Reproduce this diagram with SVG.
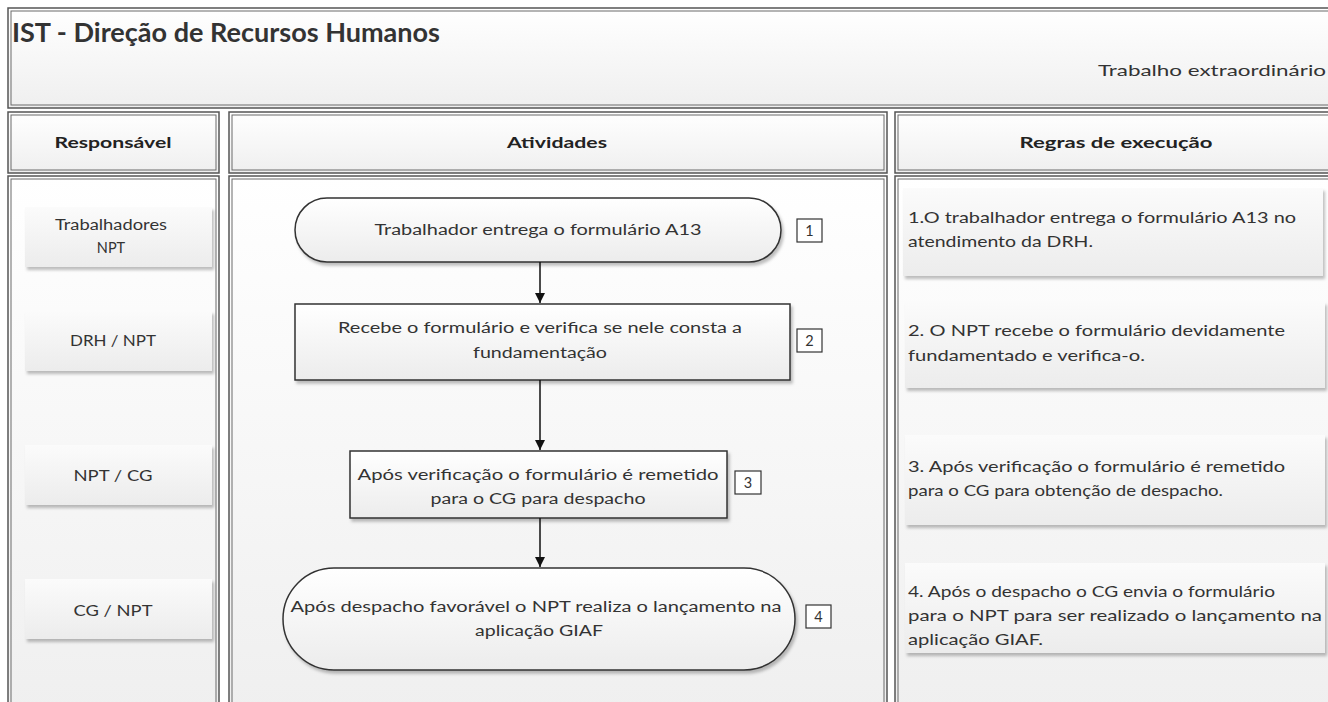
<svg xmlns="http://www.w3.org/2000/svg" width="1328" height="702" viewBox="0 0 1328 702">
<defs>
<linearGradient id="panel" x1="0" y1="0" x2="0" y2="1"><stop offset="0" stop-color="#ffffff"/><stop offset="1" stop-color="#efefef"/></linearGradient>
<linearGradient id="shape" x1="0" y1="0" x2="0" y2="1"><stop offset="0" stop-color="#ffffff"/><stop offset="1" stop-color="#ececec"/></linearGradient>
<linearGradient id="card" x1="0" y1="0" x2="0" y2="1"><stop offset="0" stop-color="#fbfbfb"/><stop offset="1" stop-color="#ececec"/></linearGradient>
<filter id="sh" x="-5%" y="-10%" width="115%" height="130%"><feDropShadow dx="2" dy="3" stdDeviation="1.5" flood-color="#000" flood-opacity="0.25"/></filter>
<marker id="arr" viewBox="0 0 10 10" refX="10" refY="5" markerWidth="10" markerHeight="10" markerUnits="userSpaceOnUse" orient="auto"><path d="M0,0 L10,5 L0,10 z" fill="#111"/></marker>
<style>
.outer{fill:url(#panel);stroke:#555;stroke-width:1.5}
.inner{fill:none;stroke:#6a6a6a;stroke-width:1}
.t{font-family:Lato,"Liberation Sans",sans-serif;fill:#333}
.h{font-weight:bold;font-size:16px;text-anchor:middle;fill:#222}
.c{font-size:14.5px;text-anchor:middle}
.n{font-size:15px}
.card{fill:url(#card);filter:url(#sh)}
.fs{fill:url(#shape);stroke:#333;stroke-width:1.5;filter:url(#sh)}
.num{fill:#fff;stroke:#333;stroke-width:1.2}
.link{stroke:#111;stroke-width:1.5;fill:none;marker-end:url(#arr)}
</style>
</defs>
<rect width="1328" height="702" fill="#fff"/>

<g id="title">
<rect class="outer" x="8" y="8" width="1330" height="100"/>
<rect class="inner" x="11" y="11" width="1330" height="94"/>
<text class="t" x="12" y="42" font-size="26" font-weight="bold" fill="#111" textLength="428" lengthAdjust="spacingAndGlyphs">IST - Direção de Recursos Humanos</text>
<text class="t" x="1326" y="76" font-size="16" text-anchor="end" textLength="228" lengthAdjust="spacingAndGlyphs">Trabalho extraordinário</text>
</g>

<g id="header-responsavel">
<rect class="outer" x="8" y="112" width="211" height="61"/>
<rect class="inner" x="11" y="115" width="205" height="55"/>
<text class="t h" x="113" y="148" textLength="117" lengthAdjust="spacingAndGlyphs">Responsável</text>
</g>
<g id="header-atividades">
<rect class="outer" x="229" y="112" width="658" height="61"/>
<rect class="inner" x="232" y="115" width="652" height="55"/>
<text class="t h" x="557" y="148" textLength="100" lengthAdjust="spacingAndGlyphs">Atividades</text>
</g>
<g id="header-regras">
<rect class="outer" x="895" y="112" width="440" height="61"/>
<rect class="inner" x="898" y="115" width="440" height="55"/>
<text class="t h" x="1116" y="148" textLength="193" lengthAdjust="spacingAndGlyphs">Regras de execução</text>
</g>

<g id="col-responsavel">
<rect class="outer" x="8" y="176" width="211" height="540"/>
<rect class="inner" x="11" y="179" width="205" height="540"/>
</g>
<g id="col-atividades">
<rect class="outer" x="229" y="176" width="658" height="540"/>
<rect class="inner" x="232" y="179" width="652" height="540"/>
</g>
<g id="col-regras">
<rect class="outer" x="895" y="176" width="440" height="540"/>
<rect class="inner" x="898" y="179" width="440" height="540"/>
</g>

<g id="resp-1">
<rect class="card" x="25" y="207" width="187" height="60"/>
<text class="t c" x="111" y="230" textLength="112" lengthAdjust="spacingAndGlyphs">Trabalhadores</text>
<text class="t c" x="111" y="253">NPT</text>
</g>
<g id="resp-2">
<rect class="card" x="25" y="311" width="187" height="60"/>
<text class="t c" x="113" y="346" textLength="86" lengthAdjust="spacingAndGlyphs">DRH / NPT</text>
</g>
<g id="resp-3">
<rect class="card" x="25" y="445" width="187" height="60"/>
<text class="t c" x="113" y="481" textLength="79" lengthAdjust="spacingAndGlyphs">NPT / CG</text>
</g>
<g id="resp-4">
<rect class="card" x="25" y="579" width="187" height="60"/>
<text class="t c" x="113" y="616" textLength="79" lengthAdjust="spacingAndGlyphs">CG / NPT</text>
</g>

<g id="step-1">
<rect class="fs" x="295" y="198" width="486" height="64" rx="32"/>
<text class="t c" x="538" y="235" textLength="327" lengthAdjust="spacingAndGlyphs">Trabalhador entrega o formulário A13</text>
<rect class="num" x="797" y="219" width="25" height="23"/>
<text class="t c" x="809.5" y="236">1</text>
</g>
<g id="step-2">
<rect class="fs" x="295" y="304" width="495" height="76"/>
<text class="t c" x="540" y="333" textLength="404" lengthAdjust="spacingAndGlyphs">Recebe o formulário e verifica se nele consta a</text>
<text class="t c" x="540" y="358" textLength="134" lengthAdjust="spacingAndGlyphs">fundamentação</text>
<rect class="num" x="797" y="329" width="25" height="23"/>
<text class="t c" x="809.5" y="346">2</text>
</g>
<g id="step-3">
<rect class="fs" x="350" y="451" width="377" height="67"/>
<text class="t c" x="538" y="480" textLength="361" lengthAdjust="spacingAndGlyphs">Após verificação o formulário é remetido</text>
<text class="t c" x="538" y="504" textLength="215" lengthAdjust="spacingAndGlyphs">para o CG para despacho</text>
<rect class="num" x="735" y="471" width="26" height="23"/>
<text class="t c" x="748" y="488">3</text>
</g>
<g id="step-4">
<rect class="fs" x="283" y="568" width="512" height="102" rx="51"/>
<text class="t c" x="536" y="612" textLength="491" lengthAdjust="spacingAndGlyphs">Após despacho favorável o NPT realiza o lançamento na</text>
<text class="t c" x="539" y="636" textLength="128" lengthAdjust="spacingAndGlyphs">aplicação GIAF</text>
<rect class="num" x="806" y="605" width="25" height="23"/>
<text class="t c" x="818.5" y="622">4</text>
</g>

<g id="connectors">
<line class="link" x1="540" y1="262" x2="540" y2="303"/>
<line class="link" x1="540" y1="380" x2="540" y2="450"/>
<line class="link" x1="540" y1="518" x2="540" y2="567"/>
</g>

<g id="rule-1">
<rect class="card" x="903" y="188" width="420" height="88"/>
<text class="t n" x="908" y="223" textLength="388" lengthAdjust="spacingAndGlyphs">1.O trabalhador entrega o formulário A13 no</text>
<text class="t n" x="908" y="247" textLength="185" lengthAdjust="spacingAndGlyphs">atendimento da DRH.</text>
</g>
<g id="rule-2">
<rect class="card" x="905" y="302" width="420" height="86"/>
<text class="t n" x="908" y="336" textLength="377" lengthAdjust="spacingAndGlyphs">2.  O NPT recebe o formulário devidamente</text>
<text class="t n" x="908" y="361" textLength="237" lengthAdjust="spacingAndGlyphs">fundamentado e verifica-o.</text>
</g>
<g id="rule-3">
<rect class="card" x="905" y="435" width="420" height="90"/>
<text class="t n" x="908" y="472" textLength="377" lengthAdjust="spacingAndGlyphs">3. Após verificação o formulário é remetido</text>
<text class="t n" x="908" y="496" textLength="315" lengthAdjust="spacingAndGlyphs">para o CG para obtenção de despacho.</text>
</g>
<g id="rule-4">
<rect class="card" x="905" y="563" width="420" height="90"/>
<text class="t n" x="908" y="597" textLength="367" lengthAdjust="spacingAndGlyphs">4. Após o despacho o CG envia o formulário</text>
<text class="t n" x="908" y="621" textLength="414" lengthAdjust="spacingAndGlyphs">para o NPT para ser realizado o lançamento na</text>
<text class="t n" x="908" y="645" textLength="135" lengthAdjust="spacingAndGlyphs">aplicação GIAF.</text>
</g>
</svg>
